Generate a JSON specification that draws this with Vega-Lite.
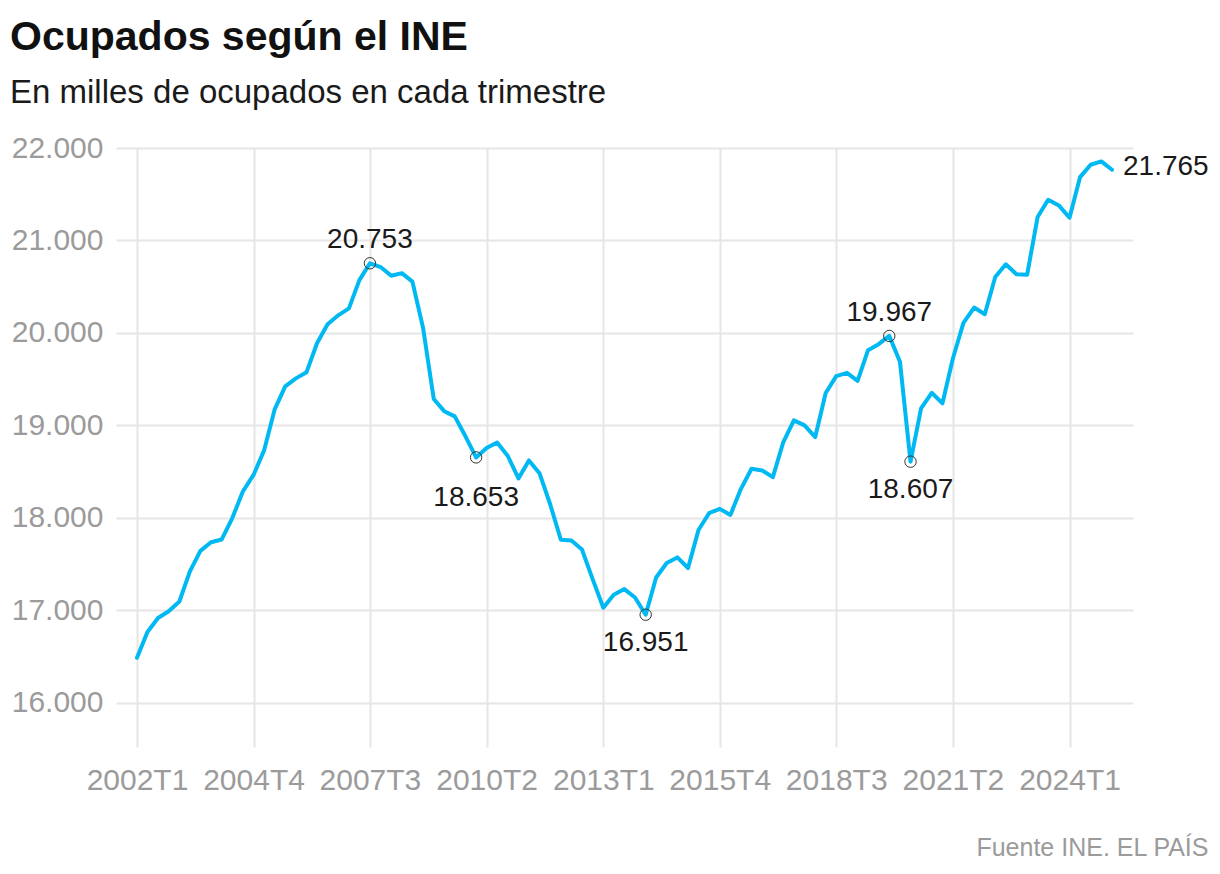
{
  "$schema": "https://vega.github.io/schema/vega-lite/v6.json",
  "width": 1017,
  "height": 599,
  "autosize": {"type": "none"},
  "padding": {"left": 116, "top": 148, "right": 87, "bottom": 127},
  "background": "white",
  "title": {
    "text": "Ocupados según el INE",
    "subtitle": "En milles de ocupados en cada trimestre",
    "anchor": "start",
    "frame": "group",
    "dx": -106,
    "offset": 22,
    "font": "Liberation Sans",
    "fontSize": 41,
    "fontWeight": "bold",
    "color": "#111111",
    "subtitleFont": "Liberation Sans",
    "subtitleFontSize": 33,
    "subtitleColor": "#1a1a1a",
    "subtitlePadding": 18
  },
  "config": {
    "locale": {"number": {"decimal": ",", "thousands": ".", "grouping": [3], "currency": ["", " €"]}},
    "view": {"stroke": null},
    "font": "Liberation Sans"
  },
  "data": {
    "values": [
      {"t": "2002T1", "q": "2002-01-01", "v": 16485}, {"t": "2002T2", "q": "2002-04-01", "v": 16765}, {"t": "2002T3", "q": "2002-07-01", "v": 16915}, {"t": "2002T4", "q": "2002-10-01", "v": 16989},
      {"t": "2003T1", "q": "2003-01-01", "v": 17094}, {"t": "2003T2", "q": "2003-04-01", "v": 17418}, {"t": "2003T3", "q": "2003-07-01", "v": 17642}, {"t": "2003T4", "q": "2003-10-01", "v": 17735},
      {"t": "2004T1", "q": "2004-01-01", "v": 17765}, {"t": "2004T2", "q": "2004-04-01", "v": 17997}, {"t": "2004T3", "q": "2004-07-01", "v": 18284}, {"t": "2004T4", "q": "2004-10-01", "v": 18463},
      {"t": "2005T1", "q": "2005-01-01", "v": 18732}, {"t": "2005T2", "q": "2005-04-01", "v": 19172}, {"t": "2005T3", "q": "2005-07-01", "v": 19422}, {"t": "2005T4", "q": "2005-10-01", "v": 19508},
      {"t": "2006T1", "q": "2006-01-01", "v": 19575}, {"t": "2006T2", "q": "2006-04-01", "v": 19888}, {"t": "2006T3", "q": "2006-07-01", "v": 20094}, {"t": "2006T4", "q": "2006-10-01", "v": 20190},
      {"t": "2007T1", "q": "2007-01-01", "v": 20265}, {"t": "2007T2", "q": "2007-04-01", "v": 20571}, {"t": "2007T3", "q": "2007-07-01", "v": 20753}, {"t": "2007T4", "q": "2007-10-01", "v": 20712},
      {"t": "2008T1", "q": "2008-01-01", "v": 20618}, {"t": "2008T2", "q": "2008-04-01", "v": 20646}, {"t": "2008T3", "q": "2008-07-01", "v": 20554}, {"t": "2008T4", "q": "2008-10-01", "v": 20052},
      {"t": "2009T1", "q": "2009-01-01", "v": 19284}, {"t": "2009T2", "q": "2009-04-01", "v": 19153}, {"t": "2009T3", "q": "2009-07-01", "v": 19097}, {"t": "2009T4", "q": "2009-10-01", "v": 18881},
      {"t": "2010T1", "q": "2010-01-01", "v": 18653}, {"t": "2010T2", "q": "2010-04-01", "v": 18754}, {"t": "2010T3", "q": "2010-07-01", "v": 18814}, {"t": "2010T4", "q": "2010-10-01", "v": 18668},
      {"t": "2011T1", "q": "2011-01-01", "v": 18426}, {"t": "2011T2", "q": "2011-04-01", "v": 18620}, {"t": "2011T3", "q": "2011-07-01", "v": 18482}, {"t": "2011T4", "q": "2011-10-01", "v": 18146},
      {"t": "2012T1", "q": "2012-01-01", "v": 17762}, {"t": "2012T2", "q": "2012-04-01", "v": 17755}, {"t": "2012T3", "q": "2012-07-01", "v": 17657}, {"t": "2012T4", "q": "2012-10-01", "v": 17336},
      {"t": "2013T1", "q": "2013-01-01", "v": 17026}, {"t": "2013T2", "q": "2013-04-01", "v": 17166}, {"t": "2013T3", "q": "2013-07-01", "v": 17228}, {"t": "2013T4", "q": "2013-10-01", "v": 17137},
      {"t": "2014T1", "q": "2014-01-01", "v": 16951}, {"t": "2014T2", "q": "2014-04-01", "v": 17354}, {"t": "2014T3", "q": "2014-07-01", "v": 17510}, {"t": "2014T4", "q": "2014-10-01", "v": 17571},
      {"t": "2015T1", "q": "2015-01-01", "v": 17456}, {"t": "2015T2", "q": "2015-04-01", "v": 17868}, {"t": "2015T3", "q": "2015-07-01", "v": 18049}, {"t": "2015T4", "q": "2015-10-01", "v": 18096},
      {"t": "2016T1", "q": "2016-01-01", "v": 18031}, {"t": "2016T2", "q": "2016-04-01", "v": 18313}, {"t": "2016T3", "q": "2016-07-01", "v": 18530}, {"t": "2016T4", "q": "2016-10-01", "v": 18512},
      {"t": "2017T1", "q": "2017-01-01", "v": 18439}, {"t": "2017T2", "q": "2017-04-01", "v": 18819}, {"t": "2017T3", "q": "2017-07-01", "v": 19054}, {"t": "2017T4", "q": "2017-10-01", "v": 19000},
      {"t": "2018T1", "q": "2018-01-01", "v": 18873}, {"t": "2018T2", "q": "2018-04-01", "v": 19350}, {"t": "2018T3", "q": "2018-07-01", "v": 19532}, {"t": "2018T4", "q": "2018-10-01", "v": 19568},
      {"t": "2019T1", "q": "2019-01-01", "v": 19481}, {"t": "2019T2", "q": "2019-04-01", "v": 19813}, {"t": "2019T3", "q": "2019-07-01", "v": 19878}, {"t": "2019T4", "q": "2019-10-01", "v": 19967},
      {"t": "2020T1", "q": "2020-01-01", "v": 19687}, {"t": "2020T2", "q": "2020-04-01", "v": 18607}, {"t": "2020T3", "q": "2020-07-01", "v": 19183}, {"t": "2020T4", "q": "2020-10-01", "v": 19352},
      {"t": "2021T1", "q": "2021-01-01", "v": 19237}, {"t": "2021T2", "q": "2021-04-01", "v": 19723}, {"t": "2021T3", "q": "2021-07-01", "v": 20108}, {"t": "2021T4", "q": "2021-10-01", "v": 20274},
      {"t": "2022T1", "q": "2022-01-01", "v": 20202}, {"t": "2022T2", "q": "2022-04-01", "v": 20605}, {"t": "2022T3", "q": "2022-07-01", "v": 20742}, {"t": "2022T4", "q": "2022-10-01", "v": 20634},
      {"t": "2023T1", "q": "2023-01-01", "v": 20630}, {"t": "2023T2", "q": "2023-04-01", "v": 21253}, {"t": "2023T3", "q": "2023-07-01", "v": 21440}, {"t": "2023T4", "q": "2023-10-01", "v": 21379},
      {"t": "2024T1", "q": "2024-01-01", "v": 21246}, {"t": "2024T2", "q": "2024-04-01", "v": 21685}, {"t": "2024T3", "q": "2024-07-01", "v": 21819}, {"t": "2024T4", "q": "2024-10-01", "v": 21855},
      {"t": "2025T1", "q": "2025-01-01", "v": 21765}
    ]
  },
  "encoding": {
    "x": {
      "field": "q",
      "type": "temporal",
      "scale": {
        "type": "utc",
        "domain": [{"year": 2001, "month": 7, "date": 4, "utc": true}, {"year": 2025, "month": 7, "date": 1, "utc": true}],
        "nice": false
      },
      "axis": {
        "values": [
          {"year": 2002, "month": 1, "date": 1, "utc": true},
          {"year": 2004, "month": 10, "date": 1, "utc": true},
          {"year": 2007, "month": 7, "date": 1, "utc": true},
          {"year": 2010, "month": 4, "date": 1, "utc": true},
          {"year": 2013, "month": 1, "date": 1, "utc": true},
          {"year": 2015, "month": 10, "date": 1, "utc": true},
          {"year": 2018, "month": 7, "date": 1, "utc": true},
          {"year": 2021, "month": 4, "date": 1, "utc": true},
          {"year": 2024, "month": 1, "date": 1, "utc": true}
        ],
        "labelExpr": "utcyear(datum.value) + 'T' + (floor(utcmonth(datum.value) / 3) + 1)",
        "grid": true,
        "gridColor": "#e6e6e6",
        "gridWidth": 2,
        "ticks": false,
        "domain": false,
        "labelAngle": 0,
        "labelFont": "Liberation Sans",
        "labelFontSize": 30,
        "labelColor": "#9b9b9b",
        "labelPadding": 18,
        "labelOverlap": false,
        "labelFlush": false,
        "title": "Fuente INE. EL PAÍS",
        "titleX": 1092,
        "titleY": 108,
        "titleAlign": "right",
        "titleBaseline": "alphabetic",
        "titleFont": "Liberation Sans",
        "titleFontSize": 25,
        "titleFontWeight": "normal",
        "titleColor": "#9b9b9b"
      }
    },
    "y": {
      "field": "v",
      "type": "quantitative",
      "scale": {"domain": [15520, 22000], "nice": false, "zero": false},
      "axis": {
        "values": [16000, 17000, 18000, 19000, 20000, 21000, 22000],
        "format": ",d",
        "grid": true,
        "gridColor": "#e6e6e6",
        "gridWidth": 2,
        "ticks": false,
        "domain": false,
        "labelFont": "Liberation Sans",
        "labelFontSize": 30,
        "labelColor": "#9b9b9b",
        "labelPadding": 13,
        "title": null
      }
    }
  },
  "layer": [
    {
      "mark": {"type": "line", "color": "#00b9f2", "strokeWidth": 4, "strokeJoin": "round", "strokeCap": "round"}
    },
    {
      "transform": [{"filter": {"field": "t", "oneOf": ["2007T3", "2010T1", "2014T1", "2019T4", "2020T2"]}}],
      "mark": {"type": "point", "shape": "circle", "filled": false, "stroke": "#333333", "strokeWidth": 1, "size": 130, "opacity": 1}
    },
    {
      "transform": [{"filter": {"field": "t", "oneOf": ["2007T3", "2019T4"]}}],
      "mark": {"type": "text", "align": "center", "baseline": "middle", "dy": -23, "fontSize": 28, "color": "#1a1a1a"},
      "encoding": {"text": {"field": "v", "type": "quantitative", "format": ",d"}}
    },
    {
      "transform": [{"filter": {"field": "t", "oneOf": ["2014T1", "2020T2"]}}],
      "mark": {"type": "text", "align": "center", "baseline": "middle", "dy": 28, "fontSize": 28, "color": "#1a1a1a"},
      "encoding": {"text": {"field": "v", "type": "quantitative", "format": ",d"}}
    },
    {
      "transform": [{"filter": {"field": "t", "equal": "2010T1"}}],
      "mark": {"type": "text", "align": "center", "baseline": "middle", "dy": 41, "fontSize": 28, "color": "#1a1a1a"},
      "encoding": {"text": {"field": "v", "type": "quantitative", "format": ",d"}}
    },
    {
      "transform": [{"filter": {"field": "t", "equal": "2025T1"}}],
      "mark": {"type": "text", "align": "left", "baseline": "middle", "dx": 11, "dy": -3, "fontSize": 28, "color": "#1a1a1a"},
      "encoding": {"text": {"field": "v", "type": "quantitative", "format": ",d"}}
    }
  ]
}
